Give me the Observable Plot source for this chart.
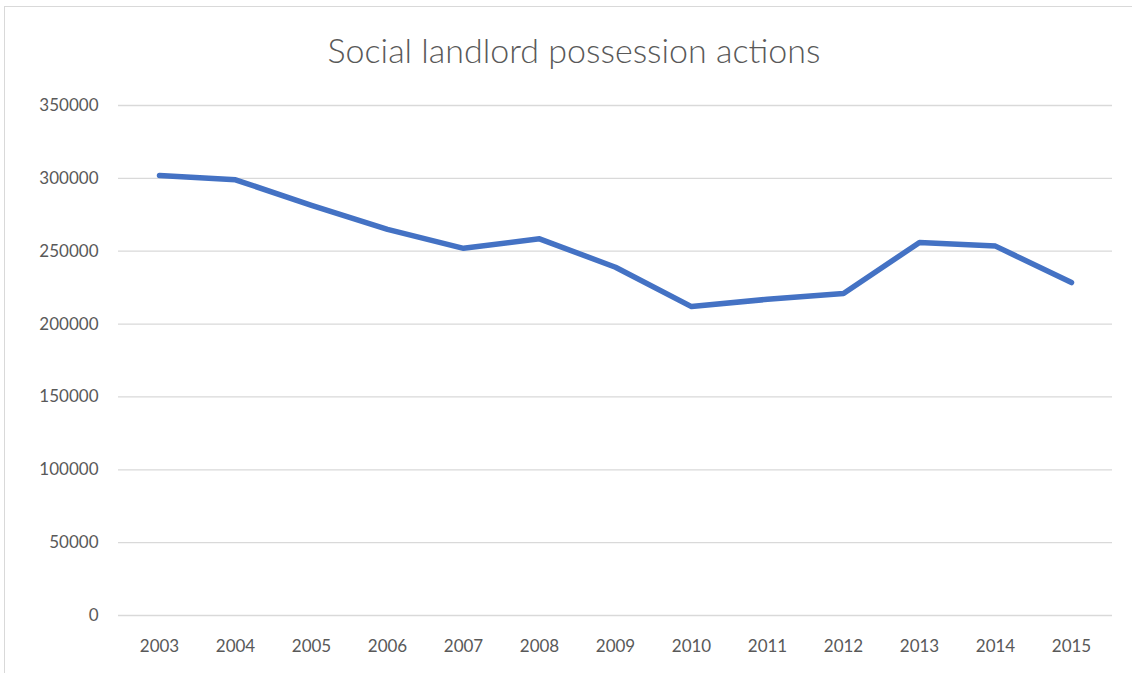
<!DOCTYPE html>
<html>
<head>
<meta charset="utf-8">
<script src="https://cdn.jsdelivr.net/npm/d3@7"></script>
<script src="https://cdn.jsdelivr.net/npm/@observablehq/plot@0.6"></script>
<style>
  html, body { margin: 0; padding: 0; background: #fff; overflow: hidden; }
  #frame { position: absolute; left: 4px; top: 6px; width: 1140px; height: 680px; border: 1px solid #d9d9d9; box-sizing: border-box; }
  #title { position: absolute; left: 0; top: 0; width: 1148px; height: 90px; text-align: center; font-family: Lato, "Open Sans", sans-serif; font-weight: 300; font-size: 34px; color: #595959; line-height: 100px; }
  #chart { position: absolute; left: 0; top: 90px; }
</style>
</head>
<body>
<div id="frame"></div>
<div id="title">Social landlord possession actions</div>
<div id="chart"></div>
<script>
const years = ["2003","2004","2005","2006","2007","2008","2009","2010","2011","2012","2013","2014","2015"];
const actions = [302000, 299000, 281500, 265000, 252000, 258500, 239000, 212000, 217000, 221000, 256000, 253500, 228500];
const yTicks = [0, 50000, 100000, 150000, 200000, 250000, 300000, 350000];

const data = years.map((y, i) => ({year: y, value: actions[i]}));

const chart = Plot.plot({
  width: 1132,
  height: 583,
  marginTop: 15,
  marginBottom: 58,
  marginLeft: 118,
  marginRight: 20,
  style: { fontFamily: "Lato, 'Open Sans', sans-serif", fontSize: "17px", color: "#595959", background: "transparent" },
  x: { type: "point", domain: years, padding: 0.5, label: null },
  y: { domain: [0, 350000], label: null },
  marks: [
    Plot.gridY(yTicks, { stroke: "#d9d9d9", strokeOpacity: 1, strokeWidth: 1.3 }),
    Plot.axisY(yTicks, { tickSize: 0, tickPadding: 20, tickFormat: d => String(d), fill: "#595959", label: null }),
    Plot.axisX(years, { tickSize: 0, tickPadding: 24, fill: "#595959", label: null }),
    Plot.line(data, { x: "year", y: "value", stroke: "#4472C4", strokeWidth: 5.5, strokeLinecap: "round", strokeLinejoin: "round" })
  ]
});
document.getElementById("chart").appendChild(chart);
</script>
</body>
</html>
